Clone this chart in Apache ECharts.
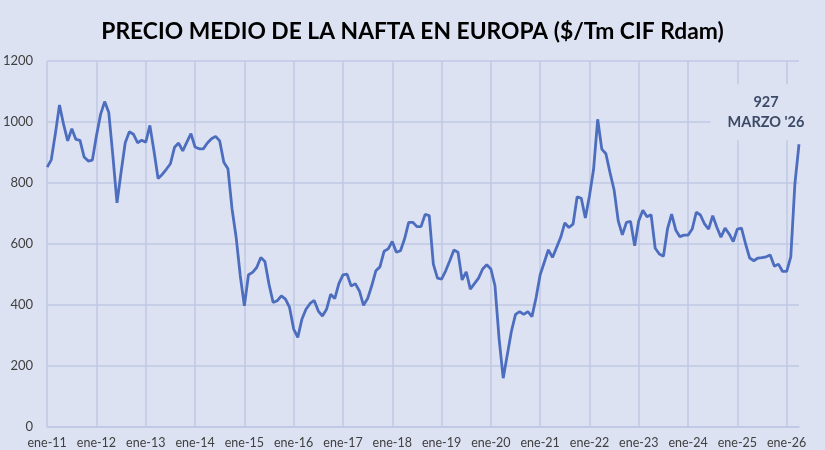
<!DOCTYPE html>
<html>
<head>
<meta charset="utf-8">
<title>Precio medio de la nafta en Europa</title>
<script src="https://cdn.jsdelivr.net/npm/echarts@6/dist/echarts.min.js"></script>
<style>
  html, body { margin: 0; padding: 0; background: #dde2f2; }
  #chart { width: 825px; height: 450px; }
</style>
</head>
<body>
<div id="chart"></div>
<script>
// meses y años del eje (ene-11 ... )
var meses = ['ene', 'feb', 'mar', 'abr', 'may', 'jun', 'jul', 'ago', 'sep', 'oct', 'nov', 'dic']
var anios = ['11', '12', '13', '14', '15', '16', '17', '18', '19', '20', '21', '22', '23', '24', '25', '26']

// precio medio mensual $/Tm CIF Rdam
var p2011 = [852, 876, 962, 1056, 992, 938, 978, 943, 940, 885, 872, 875]
var p2012 = [955, 1025, 1067, 1031, 888, 735, 836, 932, 968, 960, 932, 940]
var p2013 = [934, 989, 905, 815, 828, 845, 863, 917, 931, 905, 934, 962]
var p2014 = [918, 912, 912, 931, 945, 953, 938, 868, 847, 715, 622, 496]
var p2015 = [397, 499, 507, 523, 556, 543, 468, 408, 414, 430, 419, 392]
var p2016 = [321, 294, 353, 386, 405, 415, 380, 364, 386, 435, 421, 470]
var p2017 = [499, 501, 462, 470, 446, 399, 421, 463, 512, 525, 576, 584]
var p2018 = [608, 573, 578, 617, 671, 671, 657, 657, 697, 693, 534, 488]
var p2019 = [485, 512, 545, 580, 573, 482, 509, 452, 470, 488, 518, 532]
var p2020 = [518, 463, 290, 160, 237, 314, 369, 378, 369, 378, 362, 424]
var p2021 = [499, 540, 581, 556, 589, 622, 669, 654, 665, 755, 750, 685]
var p2022 = [758, 845, 1009, 911, 896, 834, 777, 676, 630, 671, 674, 594]
var p2023 = [676, 711, 689, 696, 586, 567, 560, 650, 698, 646, 624, 629]
var p2024 = [629, 649, 704, 695, 666, 649, 693, 655, 622, 652, 633, 608]
var p2025 = [649, 652, 600, 554, 545, 554, 555, 558, 564, 527, 534, 510]
var p2026 = [510, 558, 797, 927]

var precios = [].concat(p2011, p2012, p2013, p2014, p2015, p2016, p2017, p2018,
  p2019, p2020, p2021, p2022, p2023, p2024, p2025, p2026)

var categorias = []
anios.forEach(function (a) {
  meses.forEach(function (m) { categorias.push(m + '-' + a) })
})
categorias = categorias.slice(0, precios.length)

var ultimo = precios.length - 1
var fondo = '#dde2f2'
var rejilla = '#bfc8e4'
var esEnero = function (i) { return i % 12 === 0 }

var chart = echarts.init(document.getElementById('chart'))

var option = {
  backgroundColor: fondo,
  animation: false,
  title: {
    text: 'PRECIO MEDIO DE LA NAFTA EN EUROPA ($/Tm CIF Rdam)',
    left: 'center',
    top: 15,
    textStyle: {
      fontFamily: 'Lato',
      fontWeight: 'bold',
      fontSize: 22.8,
      color: '#000'
    }
  },
  grid: { left: 42, right: 26, top: 61, bottom: 23, containLabel: false },
  xAxis: {
    type: 'category',
    data: categorias,
    boundaryGap: false,
    axisLine: { lineStyle: { color: rejilla, width: 1.5 } },
    axisTick: { show: false },
    axisLabel: {
      interval: function (i) { return esEnero(i) },
      color: '#404040',
      fontFamily: 'Lato',
      fontSize: 12.5,
      margin: 9
    },
    splitLine: {
      show: true,
      interval: function (i) { return esEnero(i) },
      lineStyle: { color: rejilla, width: 1.5 }
    }
  },
  yAxis: {
    type: 'value',
    min: 0,
    max: 1200,
    interval: 200,
    axisLine: { show: false },
    axisTick: { show: false },
    axisLabel: {
      color: '#404040',
      fontFamily: 'Lato',
      fontSize: 13,
      margin: 14,
      formatter: function (v) { return String(v) }
    },
    splitLine: { lineStyle: { color: rejilla, width: 1.5 } }
  },
  series: [
    {
      name: 'Nafta',
      type: 'line',
      data: precios,
      symbol: 'none',
      lineStyle: { color: '#4d6dbf', width: 2.8 },
      markPoint: {
        symbol: 'circle',
        symbolSize: 0,
        data: [{ coord: [ultimo, precios[ultimo]], value: precios[ultimo] }],
        label: {
          show: true,
          position: 'inside',
          offset: [-33, -32],
          formatter: "{c}\nMARZO '26",
          align: 'center',
          verticalAlign: 'middle',
          fontFamily: 'Lato',
          fontWeight: 'bold',
          fontSize: 14.5,
          lineHeight: 20,
          color: '#3b4a66',
          backgroundColor: fondo,
          padding: [8, 17]
        }
      }
    }
  ]
}
chart.setOption(option)
</script>
</body>
</html>
